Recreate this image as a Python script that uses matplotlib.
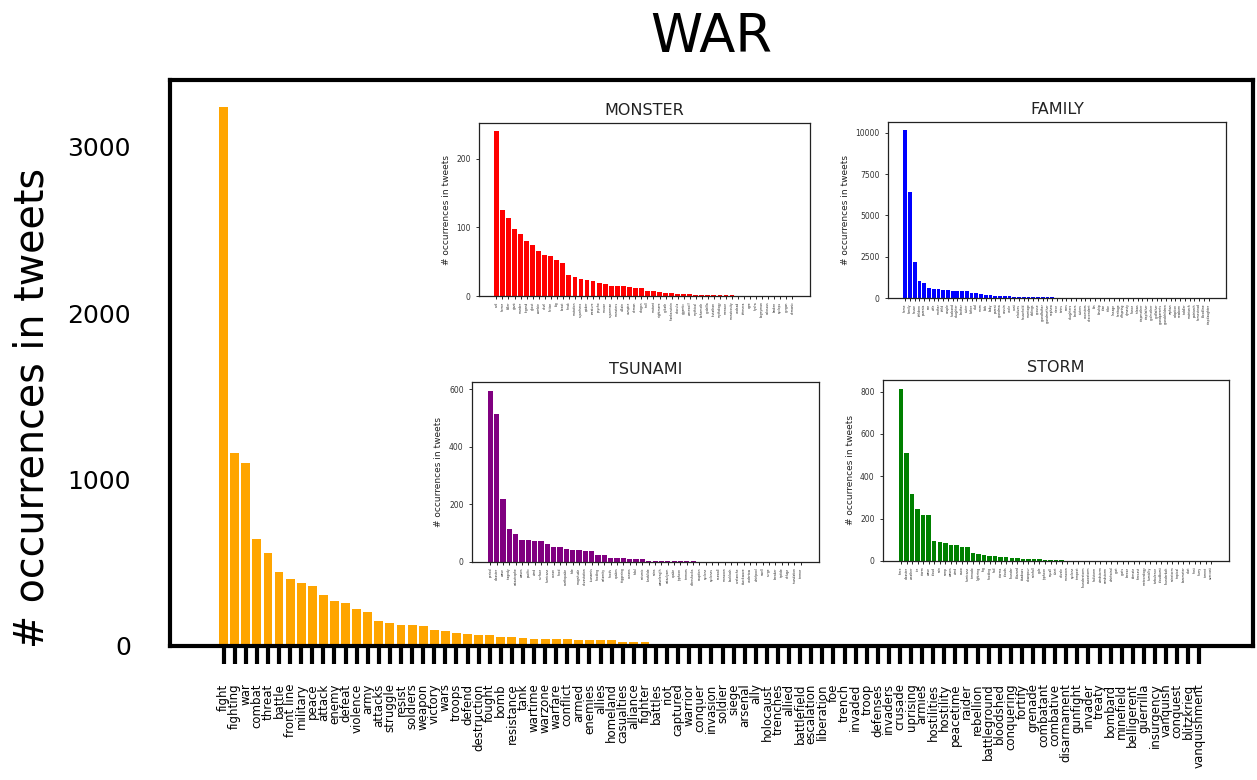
import matplotlib
matplotlib.use("Agg")
import matplotlib.pyplot as plt

# ---------------- data ----------------
war_words = ["fight", "fighting", "war", "combat", "threat", "battle", "front line", "military",
             "peace", "attack", "enemy", "defeat", "violence", "army", "attacks", "struggle",
             "resist", "soldiers", "weapon", "victory", "wars", "troops", "defend", "destruction",
             "fought", "bomb", "resistance", "tank", "wartime", "warzone", "warfare", "conflict",
             "armed", "enemies", "allies", "homeland", "casualties", "alliance", "fighter",
             "battles", "riot", "captured", "warrior", "conquer", "invasion", "soldier", "siege",
             "arsenal", "ally", "holocaust", "trenches", "allied", "battlefield", "escalation",
             "liberation", "foe", "trench", "invaded", "troop", "defenses", "invaders", "crusade",
             "uprising", "armies", "hostilities", "hostility", "peacetime", "raider", "rebellion",
             "battleground", "bloodshed", "conquering", "fortify", "grenade", "combatant",
             "combative", "disarmament", "gunfight", "invader", "treaty", "bombard", "minefield",
             "belligerent", "guerrilla", "insurgency", "vanquish", "conquest", "blitzkrieg",
             "vanquishment"]
war_counts = [3240, 1160, 1100, 645, 560, 444, 404, 380, 362, 308, 272, 260, 220, 206, 148,
              136, 126, 124, 118, 94, 92, 80, 72, 66, 64, 56, 54, 50, 44, 44, 43, 42, 38, 38,
              37, 37, 26, 25, 22, 15, 14, 14, 13, 12, 12, 11, 11, 6, 5, 3, 2, 1, 0, 0, 0, 0,
              0, 0, 0, 0, 0, 0, 0, 0, 0, 0, 0, 0, 0, 0, 0, 0, 0, 0, 0, 0, 0, 0, 0, 0, 0, 0, 0,
              0, 0, 0, 0, 0, 0]
war_yticks = [0, 1000, 2000, 3000]

monster_words = ["evil", "horror", "killer", "giant", "murder", "legend", "ghost", "zombie",
                 "devil", "fiction", "big", "beast", "freak", "mutation", "superhero", "spider",
                 "creature", "psycho", "mouse", "superman", "monsters", "villain", "vampire",
                 "demon", "dragon", "troll", "mutant", "nightmare", "goliath", "frankenstein",
                 "dracula", "gigantic", "werewolf", "mythical", "behemoth", "godzilla",
                 "leviathan", "mythology", "menace", "monstrosity", "undead", "chimera", "ogre",
                 "hydra", "bogeyman", "colossus", "kraken", "cyclops", "gorgon", "demonic"]
monster_counts = [240, 126, 114, 97, 91, 80, 75, 65, 60, 58, 53, 48, 30, 28, 25, 24, 22, 19,
                  18, 15, 14, 14, 13, 12, 12, 8, 8, 6, 4, 4, 3, 3, 3, 2, 2, 2, 2, 2, 1, 1,
                  0, 0, 0, 0, 0, 0, 0, 0, 0, 0]
monster_yticks = [0, 100, 200]

family_words = ["home", "family", "house", "children", "parents", "son", "wife", "mother",
                "child", "couple", "husband", "daughter", "brother", "sister", "father", "dad",
                "mom", "kids", "baby", "parent", "grandma", "cousin", "uncle", "aunt",
                "relatives", "household", "marriage", "siblings", "spouse", "grandfather",
                "grandmother", "nephew", "niece", "twins", "sons", "daughters", "brothers",
                "sisters", "ancestors", "descendant", "kin", "kinship", "clan", "tribe",
                "lineage", "heritage", "offspring", "dynasty", "fiance", "inlaws", "stepmother",
                "stepfather", "godmother", "godfather", "grandparents", "grandchildren",
                "orphan", "adoption", "newborn", "toddler", "matriarch", "patriarch",
                "homestead", "bloodline", "stepdaughter"]
family_counts = [10150, 6400, 2200, 1050, 900, 580, 560, 540, 480, 460, 450, 440, 430, 420,
                 300, 290, 260, 190, 170, 140, 120, 110, 100, 90, 80, 70, 62, 55, 50, 45, 40,
                 35, 30, 28, 25, 22, 20, 18, 15, 12, 10, 8, 6, 5, 4, 3, 2, 2, 1, 1,
                 0, 0, 0, 0, 0, 0, 0, 0, 0, 0, 0, 0, 0, 0, 0]
family_yticks = [0, 2500, 5000, 7500, 10000]

tsunami_words = ["period", "disaster", "wave", "tragedy", "catastrophe", "waves", "pacific",
                 "wind", "surface", "hurricane", "ocean", "flood", "earthquake", "tide",
                 "magnitude", "devastation", "tsunamis", "flooding", "calamity", "floods",
                 "quakes", "triggering", "oceans", "tidal", "seismic", "landslide", "rains",
                 "wavelength", "cataclysm", "quake", "typhoon", "tremors", "aftershocks",
                 "eruption", "cyclone", "cyclones", "seawall", "monsoon", "backlash",
                 "avalanche", "shockwave", "undertow", "whirlpool", "swell", "surge", "breaker",
                 "riptide", "deluge", "inundation", "tremor"]
tsunami_counts = [595, 512, 217, 115, 97, 75, 75, 74, 74, 64, 53, 53, 46, 43, 41, 38, 38, 25,
                  24, 15, 14, 14, 12, 11, 9, 5, 4, 3, 3, 3, 2, 2, 2, 1, 1,
                  0, 0, 0, 0, 0, 0, 0, 0, 0, 0, 0, 0, 0, 0, 0]
tsunami_yticks = [0, 200, 400, 600]

storm_words = ["force", "disaster", "weather", "ice", "storm", "wave", "cloud", "rain", "ramp",
               "waves", "wind", "snow", "hurricane", "tornado", "lightning", "fog", "flooding",
               "hail", "storms", "clouds", "thunder", "blizzard", "shadows", "downpour",
               "rainfall", "gale", "typhoon", "squall", "sleet", "drizzle", "monsoon", "cyclone",
               "tempest", "thunderstorm", "snowstorm", "hailstorm", "windstorm", "sandstorm",
               "whirlwind", "gust", "gusts", "breeze", "climate", "forecast", "meteorology",
               "humidity", "turbulence", "cloudburst", "thunderbolt", "rainstorm", "tropical",
               "barometer", "dust", "frost", "flurry", "torrent", "overcast"]
storm_counts = [814, 512, 318, 244, 217, 217, 96, 91, 85, 75, 74, 64, 64, 36, 35, 30, 24, 22,
                20, 19, 14, 13, 11, 11, 10, 9, 6, 5, 3, 3, 2, 2, 1, 1,
                0, 0, 0, 0, 0, 0, 0, 0, 0, 0, 0, 0, 0, 0, 0, 0, 0, 0, 0, 0, 0, 0, 0]
storm_yticks = [0, 200, 400, 600, 800]

insets = [
    ("MONSTER", monster_words, monster_counts, monster_yticks, "red",
     [0.381, 0.6205, 0.2633, 0.2218]),
    ("FAMILY", family_words, family_counts, family_yticks, "blue",
     [0.7064, 0.6179, 0.2689, 0.2256]),
    ("TSUNAMI", tsunami_words, tsunami_counts, tsunami_yticks, "purple",
     [0.3755, 0.2795, 0.2761, 0.2308]),
    ("STORM", storm_words, storm_counts, storm_yticks, "green",
     [0.7025, 0.2808, 0.2753, 0.2321]),
]

# ---------------- figure ----------------
fig = plt.figure(figsize=(12.57, 7.80), dpi=100)
ax = fig.add_axes([0.1352, 0.1718, 0.8616, 0.7256])

x = list(range(len(war_words)))
ax.bar(x, war_counts, color="orange", width=0.8)
ax.set_xticks(x)
ax.set_xticklabels(war_words, rotation=90, fontsize=8.5)
ax.set_yticks(war_yticks)
ax.tick_params(axis="x", length=13, width=3, pad=14, direction="out", color="black")
ax.tick_params(axis="y", length=0, pad=28, labelsize=18)
for s in ax.spines.values():
    s.set_linewidth(3)
    s.set_color("black")
ax.set_ylabel("# occurrences in tweets", fontsize=28.5)
ax.yaxis.set_label_coords(-0.108, 0.42)
ax.set_title("WAR", fontsize=38, pad=20)

for title, words, counts, yticks, color, rect in insets:
    ia = fig.add_axes(rect)
    xi = list(range(len(words)))
    ia.bar(xi, counts, color=color, width=0.8)
    ia.set_xticks(xi)
    ia.set_xticklabels(words, rotation=90, fontsize=2.2, color="#444444")
    ia.set_yticks(yticks)
    ia.tick_params(axis="x", length=2.5, width=0.7, pad=1.5, colors="#222222")
    ia.tick_params(axis="y", length=2.5, width=0.7, labelsize=5.5, colors="#333333")
    for s in ia.spines.values():
        s.set_linewidth(0.9)
        s.set_color("#222222")
    ia.set_ylabel("# occurrences in tweets", fontsize=6.5, color="#222222")
    ia.set_title(title, fontsize=11.5, color="#222222")

fig.savefig("out.png", dpi=100)
